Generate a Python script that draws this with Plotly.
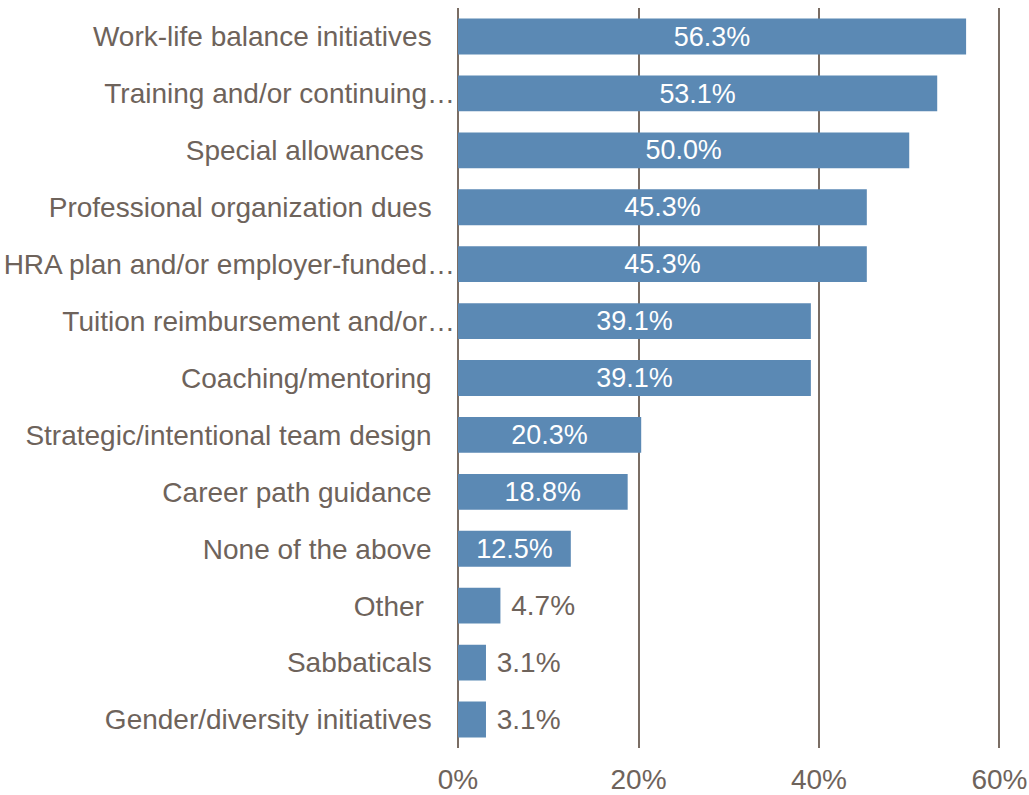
import plotly.graph_objects as go

# Survey responses: share of organisations offering each benefit
categories = [
    "Work-life balance initiatives",
    "Training and/or continuing…",
    "Special allowances\u00a0",
    "Professional organization dues",
    "HRA plan and/or employer-funded…",
    "Tuition reimbursement and/or…",
    "Coaching/mentoring",
    "Strategic/intentional team design",
    "Career path guidance",
    "None of the above",
    "Other\u00a0",
    "Sabbaticals",
    "Gender/diversity initiatives",
]
values = [56.3, 53.1, 50.0, 45.3, 45.3, 39.1, 39.1, 20.3, 18.8, 12.5, 4.7, 3.1, 3.1]
x_ticks = [0, 20, 40, 60]
x_tick_labels = ["0%", "20%", "40%", "60%"]

BAR = "#5b89b4"
TEXT = "#6e635b"
GRID = "#7a6d64"
FONT = "Liberation Sans, Arial, sans-serif"
SIZE = 28

# Truncated names let their ellipsis run up to the axis; full names are
# padded so their last letter sits a little further left.
PAD = "\u00a0\u00a0\u00a0"
tick_text = [c if c.endswith("…") else c + PAD for c in categories]

# Long bars carry their label inside; short ones get it just past the end
positions = ["inside" if v >= 10 else "outside" for v in values]
labels = [
    f"{v:.1f}%" if p == "inside" else f"\u00a0{v:.1f}%"
    for v, p in zip(values, positions)
]

fig = go.Figure(
    go.Bar(
        x=values,
        y=categories,
        orientation="h",
        marker=dict(color=BAR, line=dict(width=0)),
        text=labels,
        textposition=positions,
        insidetextanchor="middle",
        insidetextfont=dict(color="white", size=SIZE, family=FONT),
        outsidetextfont=dict(color=TEXT, size=SIZE, family=FONT),
        textangle=0,
        cliponaxis=False,
        width=0.63,
    )
)

fig.update_layout(
    width=1029,
    height=795,
    margin=dict(l=458, r=25, t=8, b=47),
    paper_bgcolor="white",
    plot_bgcolor="white",
    font=dict(family=FONT, size=SIZE, color=TEXT),
    showlegend=False,
    xaxis=dict(
        range=[0, 60.5],
        tickvals=x_ticks,
        ticktext=x_tick_labels,
        showgrid=True,
        gridcolor=GRID,
        gridwidth=2,
        zeroline=True,
        zerolinecolor=GRID,
        zerolinewidth=2,
        showline=False,
        ticks="",
        tickfont=dict(size=SIZE, color=TEXT),
        ticklabelstandoff=12,
        automargin=False,
    ),
    yaxis=dict(
        autorange="reversed",
        tickvals=categories,
        ticktext=tick_text,
        showgrid=False,
        showline=False,
        ticks="",
        tickfont=dict(size=SIZE, color=TEXT),
        ticklabelstandoff=2,
        automargin=False,
    ),
)

fig.write_html("out.html")
